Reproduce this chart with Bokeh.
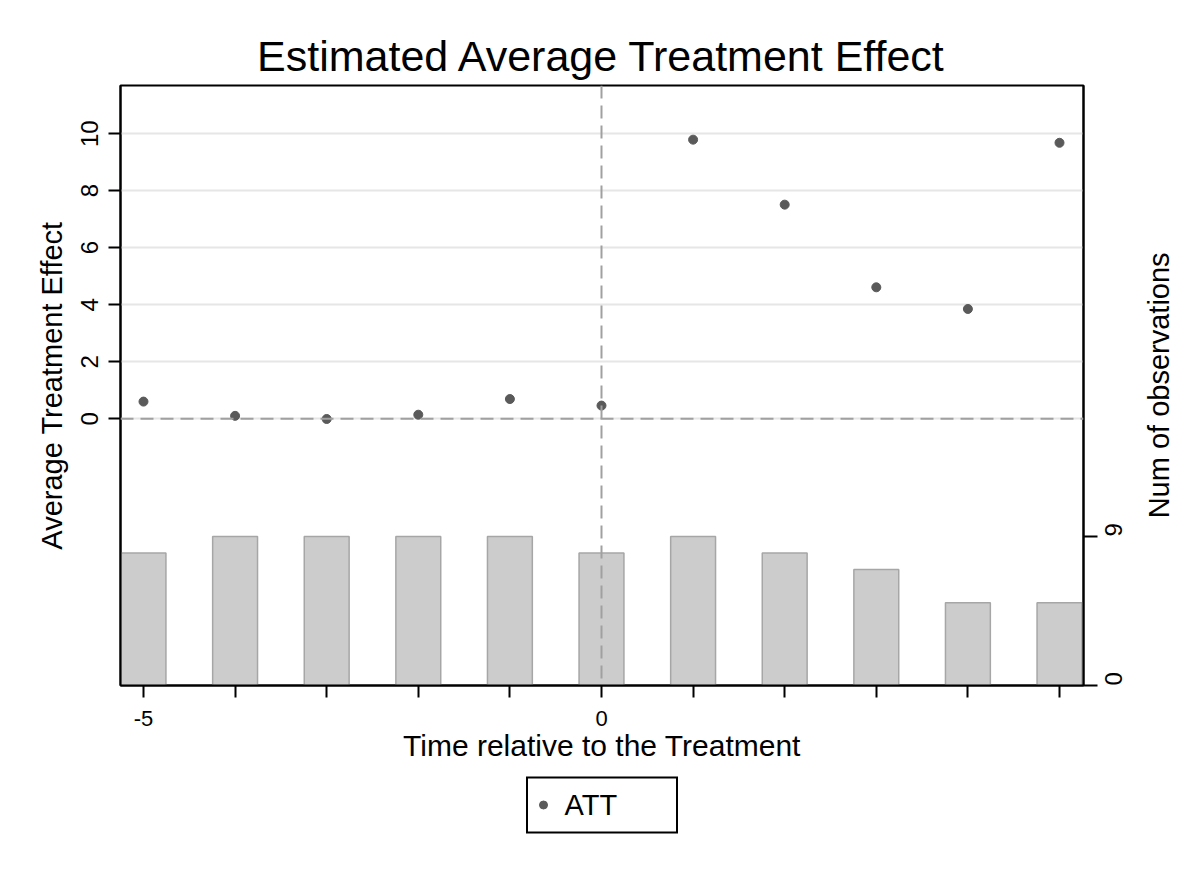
import math
from bokeh.plotting import figure
from bokeh.layouts import column, row
from bokeh.models import Range1d, LinearAxis, FixedTicker, Span, Legend, LegendItem, Label
from bokeh.embed import file_html
from bokeh.resources import INLINE

# ---- data ----
periods = [-5, -4, -3, -2, -1, 0, 1, 2, 3, 4, 5]
att = [0.60, 0.10, -0.01, 0.14, 0.69, 0.46, 9.79, 7.51, 4.61, 3.85, 9.68]
num_obs = [8, 9, 9, 9, 9, 8, 9, 8, 7, 5, 5]
y_ticks = [0, 2, 4, 6, 8, 10]
obs_ticks = [0, 9]
x_label_shown = {-5: "-5", 0: "0"}

FONT = "Liberation Sans"
DOT = "#5a5a5a"

p = figure(frame_width=963, frame_height=600, output_backend="svg", toolbar_location=None,
           x_range=Range1d(-5.251, 5.262), y_range=Range1d(-9.36, 11.69),
           min_border_left=120, min_border_right=62, min_border_top=85,
           min_border_bottom=89, title="Estimated Average Treatment Effect")
p.extra_y_ranges = {"obs": Range1d(0, 36.24)}

p.background_fill_color = "white"
p.border_fill_color = "white"
p.outline_line_color = "black"
p.outline_line_width = 2

# title
p.title.text_font = FONT
p.title.text_font_size = "43px"
p.title.text_font_style = "normal"
p.title.text_color = "black"
p.title.align = "center"
p.title.standoff = 11

# bars (secondary axis)
p.vbar(x=periods, top=num_obs, bottom=0, width=0.49, y_range_name="obs",
       fill_color="#cccccc", line_color="#a6a6a6", line_width=1.5)

# reference lines
p.add_layout(Span(location=0, dimension="width", line_color="#a0a0a0",
                  line_width=2, line_dash="13 7"))
p.add_layout(Span(location=0, dimension="height", line_color="#a0a0a0",
                  line_width=2, line_dash="13 7"))

# ATT points
r = p.scatter(x=periods, y=att, size=9, fill_color=DOT, line_color=DOT)

# grid
p.xgrid.visible = False
p.ygrid.ticker = FixedTicker(ticks=y_ticks)
p.ygrid.grid_line_color = "#e6e6e6"
p.ygrid.grid_line_width = 2

# left axis
ya = p.yaxis[0]
ya.ticker = FixedTicker(ticks=y_ticks)
ya.axis_label = "Average Treatment Effect"
ya.axis_label_text_font = FONT
ya.axis_label_text_font_size = "29px"
ya.axis_label_text_font_style = "normal"
ya.axis_label_text_color = "black"
ya.axis_label_standoff = 11
ya.major_label_orientation = "vertical"
ya.major_label_text_font = FONT
ya.major_label_text_font_size = "24px"
ya.major_label_text_color = "black"
ya.major_label_standoff = 10
ya.major_tick_out = 12
ya.major_tick_in = 0
ya.major_tick_line_width = 2
ya.minor_tick_line_color = None
ya.axis_line_width = 2
ya.axis_line_color = "black"

# bottom axis
xa = p.xaxis[0]
xa.ticker = FixedTicker(ticks=periods)
xa.major_label_overrides = {t: x_label_shown.get(t, "") for t in periods}
xa.axis_label = "Time relative to the Treatment"
xa.axis_label_text_font = FONT
xa.axis_label_text_font_size = "30px"
xa.axis_label_text_font_style = "normal"
xa.axis_label_text_color = "black"
xa.axis_label_standoff = 0
xa.major_label_text_font = FONT
xa.major_label_text_font_size = "22px"
xa.major_label_text_color = "black"
xa.major_label_standoff = 13
xa.major_tick_out = 12
xa.major_tick_in = 0
xa.major_tick_line_width = 2
xa.minor_tick_line_color = None
xa.axis_line_width = 2
xa.axis_line_color = "black"

# right axis (ticks and tick labels)
ra = LinearAxis(y_range_name="obs", ticker=FixedTicker(ticks=obs_ticks))
ra.major_label_orientation = math.pi / 2
ra.major_label_text_font = FONT
ra.major_label_text_font_size = "24px"
ra.major_label_text_color = "black"
ra.major_label_standoff = 16
ra.major_tick_out = 14
ra.major_tick_in = 0
ra.major_tick_line_width = 2
ra.minor_tick_line_color = None
ra.axis_line_width = 2
ra.axis_line_color = "black"
p.add_layout(ra, "right")

# right-hand axis title: a narrow strip beside the chart, text reading bottom-to-top
rt = figure(frame_width=40, frame_height=600, output_backend="svg", toolbar_location=None,
            x_range=Range1d(0, 1), y_range=p.y_range,
            x_axis_location=None, y_axis_location=None,
            min_border_left=0, min_border_right=0, min_border_top=85,
            min_border_bottom=0)
rt.outline_line_color = None
rt.xgrid.visible = False
rt.ygrid.visible = False
rt.background_fill_color = "white"
rt.border_fill_color = "white"
rt.add_layout(Label(x=0.34, y=1.17, text="Num of observations", angle=math.pi / 2,
                    text_align="center", text_baseline="middle", text_font=FONT,
                    text_font_size="29px", text_color="black"))

# legend strip under the chart (same borders, so frames line up)
lg = figure(frame_width=963, frame_height=61, output_backend="svg", toolbar_location=None,
            x_range=p.x_range, y_range=Range1d(20, 21),
            x_axis_location=None, y_axis_location=None,
            min_border_left=120, min_border_right=62, min_border_top=0,
            min_border_bottom=4)
lg.outline_line_color = None
lg.xgrid.visible = False
lg.ygrid.visible = False
lg.background_fill_color = "white"
lg.border_fill_color = "white"
key = lg.scatter(x=periods, y=att, size=9, fill_color=DOT, line_color=DOT)

legend = Legend(items=[LegendItem(label="ATT", renderers=[key])], location="center",
                orientation="horizontal")
legend.border_line_color = "black"
legend.border_line_width = 2
legend.border_line_alpha = 1.0
legend.label_text_font = FONT
legend.label_text_font_size = "29px"
legend.label_text_color = "black"
legend.padding = 5
legend.glyph_width = 20
legend.glyph_height = 20
legend.label_standoff = 12
legend.label_width = 106
legend.label_height = 43
legend.margin = 0
legend.background_fill_color = "white"
legend.background_fill_alpha = 1.0
lg.add_layout(legend)

page = row(column(p, lg, spacing=0), rt, spacing=0)
open("out.html", "w").write(file_html(page, INLINE))
